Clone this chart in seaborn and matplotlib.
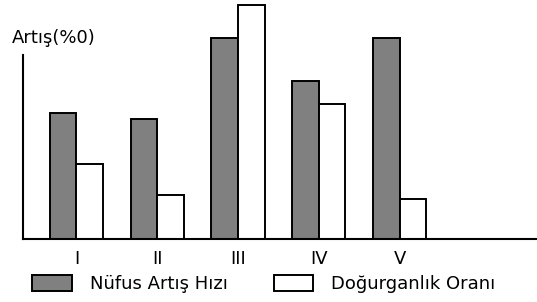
import matplotlib
matplotlib.use("Agg")
import matplotlib.pyplot as plt
import matplotlib.patches as mpatches
import seaborn as sns
import pandas as pd

regions = ["I", "II", "III", "IV", "V"]
series_names = ["Nüfus Artış Hızı", "Doğurganlık Oranı"]
nufus_artis = [12.6, 12.0, 20.1, 15.8, 20.1]
dogurganlik = [7.5, 4.4, 23.4, 13.5, 4.0]
y_label = "Artış(%0)"
axis_top = 18.4

df = pd.DataFrame({
    "bolge": regions * 2,
    "seri": [series_names[0]] * len(regions) + [series_names[1]] * len(regions),
    "deger": nufus_artis + dogurganlik,
})

sns.set_style("white")
plt.rcParams["font.family"] = ["DejaVu Sans"]
plt.rcParams["text.color"] = "black"
plt.rcParams["xtick.color"] = "black"
plt.rcParams["xtick.labelcolor"] = "black"

fig = plt.figure(figsize=(5.37, 3.02), dpi=100)
ax = fig.add_axes([23 / 537, 63 / 302, 514 / 537, 235 / 302])

palette = {series_names[0]: "#808080", series_names[1]: "#ffffff"}
sns.barplot(data=df, x="bolge", y="deger", hue="seri", order=regions,
            hue_order=series_names, palette=palette, width=0.66,
            edgecolor="black", linewidth=1.4, saturation=1, ax=ax, legend=False)

ax.set_xlim(-0.661, 5.70)
ax.set_ylim(0, 23.5)
ax.set_xlabel("")
ax.set_ylabel("")
ax.set_yticks([])
ax.tick_params(axis="x", length=0, pad=8, labelsize=13, labelcolor="black")
for s in ["top", "right"]:
    ax.spines[s].set_visible(False)
ax.spines["left"].set_bounds(0, axis_top)
for s in ["left", "bottom"]:
    ax.spines[s].set_color("black")
    ax.spines[s].set_linewidth(1.5)

fig.text(12 / 537, 1 - 38 / 302, y_label, fontsize=13, va="center", ha="left",
         color="black")

handles = [mpatches.Patch(facecolor=palette[n], edgecolor="black", linewidth=1.4, label=n)
           for n in series_names]
leg = fig.legend(handles=handles, ncol=2, loc="center left",
                 bbox_to_anchor=(32 / 537, 1 - 284 / 302), frameon=False,
                 fontsize=13, handlelength=2.2, handleheight=1.0,
                 handletextpad=1.0, columnspacing=2.55, borderpad=0, borderaxespad=0)
for t in leg.get_texts():
    t.set_color("black")

fig.savefig("out.png", dpi=100)
